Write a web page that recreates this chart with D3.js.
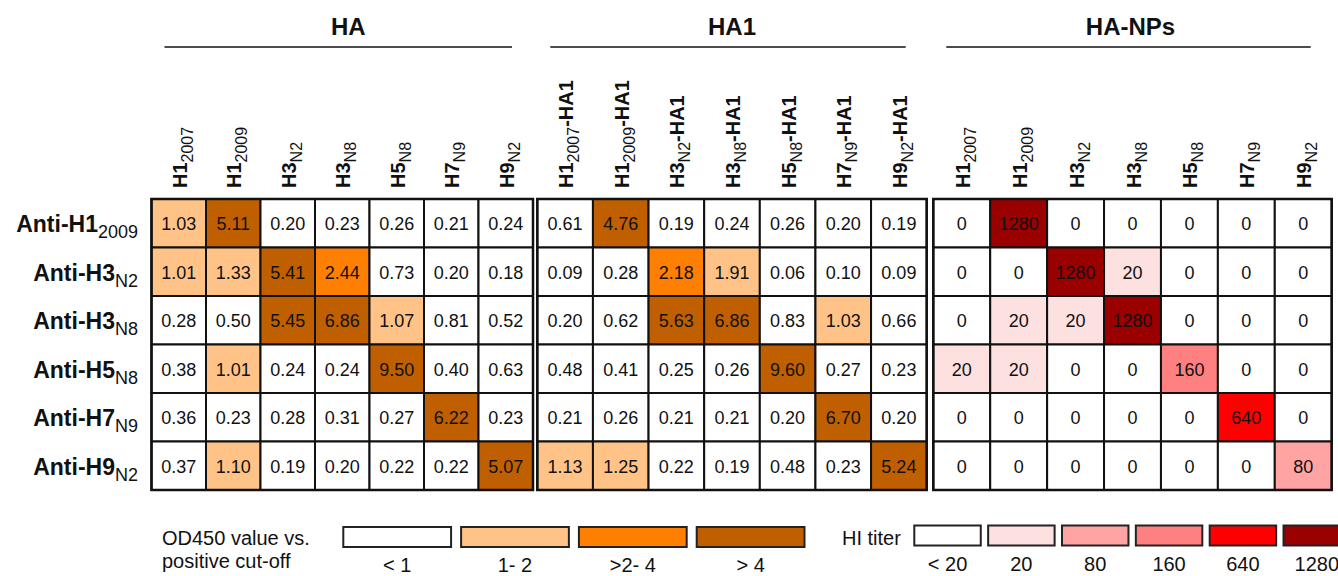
<!DOCTYPE html>
<html>
<head>
<meta charset="utf-8">
<script src="https://cdn.jsdelivr.net/npm/d3@7"></script>
<style>
    body { margin: 0; background: #fff; }
    svg text { font-family: "Liberation Sans", Arial, sans-serif; fill: #111; }
</style>
</head>
<body>
<div id="chart"></div>
<script>
/* jshint esversion: 6 */

// #############################################################################
// data
var rowMain = ["Anti-H1", "Anti-H3", "Anti-H3", "Anti-H5", "Anti-H7", "Anti-H9"];
var rowSub  = ["2009", "N2", "N8", "N8", "N9", "N2"];

var colMain = ["H1", "H1", "H3", "H3", "H5", "H7", "H9"];
var colSub  = ["2007", "2009", "N2", "N8", "N8", "N9", "N2"];

var groupTitles = ["HA", "HA1", "HA-NPs"];
var groupSuffix = ["", "-HA1", ""];

var haValues = [
    [1.03, 5.11, 0.20, 0.23, 0.26, 0.21, 0.24],
    [1.01, 1.33, 5.41, 2.44, 0.73, 0.20, 0.18],
    [0.28, 0.50, 5.45, 6.86, 1.07, 0.81, 0.52],
    [0.38, 1.01, 0.24, 0.24, 9.50, 0.40, 0.63],
    [0.36, 0.23, 0.28, 0.31, 0.27, 6.22, 0.23],
    [0.37, 1.10, 0.19, 0.20, 0.22, 0.22, 5.07]
];

var ha1Values = [
    [0.61, 4.76, 0.19, 0.24, 0.26, 0.20, 0.19],
    [0.09, 0.28, 2.18, 1.91, 0.06, 0.10, 0.09],
    [0.20, 0.62, 5.63, 6.86, 0.83, 1.03, 0.66],
    [0.48, 0.41, 0.25, 0.26, 9.60, 0.27, 0.23],
    [0.21, 0.26, 0.21, 0.21, 0.20, 6.70, 0.20],
    [1.13, 1.25, 0.22, 0.19, 0.48, 0.23, 5.24]
];

var hiValues = [
    [0,  1280, 0,    0,    0,   0,   0],
    [0,  0,    1280, 20,   0,   0,   0],
    [0,  20,   20,   1280, 0,   0,   0],
    [20, 20,   0,    0,    160, 0,   0],
    [0,  0,    0,    0,    0,   640, 0],
    [0,  0,    0,    0,    0,   0,   80]
];

var odBreaks = [1, 2, 4];
var odLabels = ["< 1", "1- 2", ">2- 4", "> 4"];
var odColors = ["#ffffff", "#ffc387", "#ff7f00", "#c05f00"];

var hiLevels = [0, 20, 80, 160, 640, 1280];
var hiLabels = ["< 20", "20", "80", "160", "640", "1280"];
var hiColors = ["#ffffff", "#fde0e0", "#ffa3a3", "#ff8080", "#ff0000", "#9b0000"];
// #############################################################################

(function()
{
    "use strict";

    var W = 1338, H = 576;
    var gridTop = 199, gridBottom = 490;

    var svg = d3.select("#chart")
                .append("svg")
                .attr("width", W)
                .attr("height", H);

    var odColor = d3.scaleThreshold().domain(odBreaks).range(odColors);
    var hiColor = d3.scaleOrdinal().domain(hiLevels).range(hiColors);

    var yScale = d3.scaleBand()
                   .domain(d3.range(rowMain.length))
                   .range([gridTop, gridBottom])
                   .paddingInner(0);

    var panels = [
        { x0: 151.5, x1: 533,    dx: 6,  values: haValues,  color: odColor, fmt: (v) => v.toFixed(2) },
        { x0: 537.3, x1: 926.7,  dx: 0,  values: ha1Values, color: odColor, fmt: (v) => v.toFixed(2) },
        { x0: 933.3, x1: 1331.7, dx: -2, values: hiValues,  color: hiColor, fmt: (v) => String(v) }
    ];

    // row labels
    // #########################################################################
    var rowText = svg.append("g")
       .selectAll("text")
       .data(rowMain)
       .join("text")
       .attr("x", 138)
       .attr("y", (d, i) => yScale(i) + yScale.bandwidth() / 2 + 9)
       .attr("text-anchor", "end");

    rowText.append("tspan")
       .attr("font-size", 23)
       .attr("font-weight", "bold")
       .text((d) => d);
    rowText.append("tspan")
       .attr("font-size", 18)
       .attr("dy", 6)
       .text((d, i) => rowSub[i]);
    // #########################################################################

    panels.forEach(function(p, pi) {
        var xScale = d3.scaleBand()
                       .domain(d3.range(colMain.length))
                       .range([p.x0, p.x1]);

        var g = svg.append("g");

        // group header + rule
        g.append("text")
         .attr("x", (p.x0 + p.x1) / 2 + p.dx)
         .attr("y", 35)
         .attr("text-anchor", "middle")
         .attr("font-size", 24)
         .attr("font-weight", "bold")
         .text(groupTitles[pi]);

        g.append("line")
         .attr("x1", p.x0 + 13)
         .attr("x2", p.x1 - 21)
         .attr("y1", 47)
         .attr("y2", 47)
         .attr("stroke", "#111")
         .attr("stroke-width", 1.5);

        // rotated column labels
        var col = g.selectAll("text.col")
         .data(colMain)
         .join("text")
         .attr("class", "col")
         .attr("transform", (d, i) =>
               `translate(${xScale(i) + xScale.bandwidth() / 2 + 8},188) rotate(-90)`);

        col.append("tspan")
           .attr("font-size", 20)
           .attr("font-weight", "bold")
           .text((d) => d);
        col.append("tspan")
           .attr("font-size", 16)
           .attr("dy", 6)
           .text((d, i) => colSub[i]);
        if (groupSuffix[pi])
            col.append("tspan")
               .attr("font-size", 20)
               .attr("font-weight", "bold")
               .attr("dy", -6)
               .text(groupSuffix[pi]);

        // cells
        var cells = [];
        p.values.forEach((row, r) => row.forEach((v, c) => cells.push({ r: r, c: c, v: v })));

        g.selectAll("rect.cell")
         .data(cells)
         .join("rect")
         .attr("class", "cell")
         .attr("x", (d) => xScale(d.c))
         .attr("y", (d) => yScale(d.r))
         .attr("width", xScale.bandwidth())
         .attr("height", yScale.bandwidth())
         .attr("fill", (d) => p.color(d.v))
         .attr("stroke", "#111")
         .attr("stroke-width", 2);

        g.selectAll("text.val")
         .data(cells)
         .join("text")
         .attr("class", "val")
         .attr("x", (d) => xScale(d.c) + xScale.bandwidth() / 2)
         .attr("y", (d) => yScale(d.r) + yScale.bandwidth() / 2 + 7)
         .attr("text-anchor", "middle")
         .attr("font-size", 18)
         .text((d) => p.fmt(d.v));

        g.append("rect")
         .attr("x", p.x0)
         .attr("y", gridTop)
         .attr("width", p.x1 - p.x0)
         .attr("height", gridBottom - gridTop)
         .attr("fill", "none")
         .attr("stroke", "#111")
         .attr("stroke-width", 2.5);
    });

    // legends
    // #########################################################################
    var leg = svg.append("g");

    leg.append("text")
       .attr("x", 162).attr("y", 545)
       .attr("font-size", 20)
       .text("OD450 value vs.");
    leg.append("text")
       .attr("x", 162).attr("y", 568)
       .attr("font-size", 20)
       .text("positive cut-off");

    var odX = d3.scaleBand()
                .domain(d3.range(odColors.length))
                .range([343.3, 804.5])
                .paddingInner(0.085)
                .paddingOuter(0);

    leg.selectAll("rect.od")
       .data(odColors)
       .join("rect")
       .attr("class", "od")
       .attr("x", (d, i) => odX(i))
       .attr("y", 527)
       .attr("width", odX.bandwidth())
       .attr("height", 20)
       .attr("fill", (d) => d)
       .attr("stroke", "#222")
       .attr("stroke-width", 2);

    leg.selectAll("text.od")
       .data(odLabels)
       .join("text")
       .attr("class", "od")
       .attr("x", (d, i) => odX(i) + odX.bandwidth() / 2)
       .attr("y", 572)
       .attr("text-anchor", "middle")
       .attr("font-size", 20)
       .text((d) => d);

    leg.append("text")
       .attr("x", 842).attr("y", 545)
       .attr("font-size", 20)
       .text("HI titer");

    var hiX = d3.scaleBand()
                .domain(d3.range(hiColors.length))
                .range([914.3, 1350])
                .paddingInner(0.1)
                .paddingOuter(0);

    leg.selectAll("rect.hi")
       .data(hiColors)
       .join("rect")
       .attr("class", "hi")
       .attr("x", (d, i) => hiX(i))
       .attr("y", 525.5)
       .attr("width", hiX.bandwidth())
       .attr("height", 20)
       .attr("fill", (d) => d)
       .attr("stroke", "#222")
       .attr("stroke-width", 2);

    leg.selectAll("text.hi")
       .data(hiLabels)
       .join("text")
       .attr("class", "hi")
       .attr("x", (d, i) => hiX(i) + hiX.bandwidth() / 2)
       .attr("y", 571)
       .attr("text-anchor", "middle")
       .attr("font-size", 20)
       .text((d) => d);
    // #########################################################################
}
)();
</script>
</body>
</html>
